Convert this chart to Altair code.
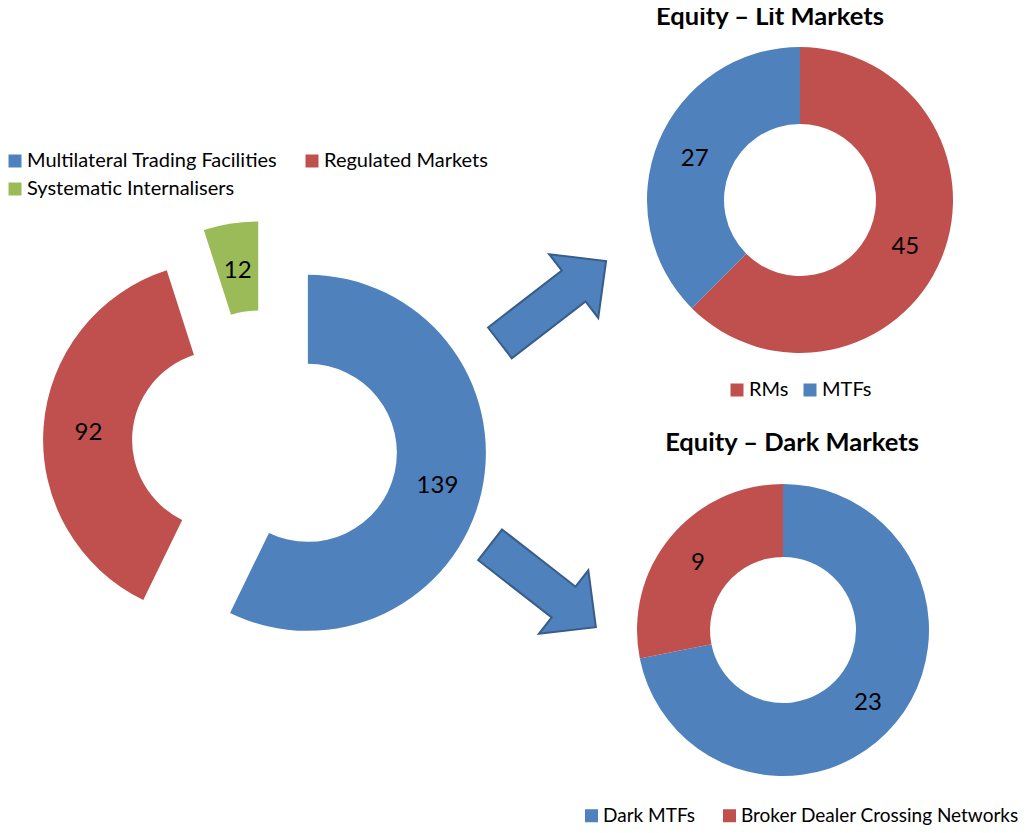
import altair as alt
import pandas as pd

# ---- data ----
big_categories = ["Multilateral Trading Facilities", "Regulated Markets", "Systematic Internalisers"]
big_values = [139, 92, 12]
big_colors = ["#4F81BD", "#C0504D", "#9BBB59"]

lit_categories = ["RMs", "MTFs"]
lit_values = [45, 27]
lit_colors = ["#C0504D", "#4F81BD"]

dark_categories = ["Dark MTFs", "Broker Dealer Crossing Networks"]
dark_values = [23, 9]
dark_colors = ["#4F81BD", "#C0504D"]

titles = ["Equity \u2013 Lit Markets", "Equity \u2013 Dark Markets"]

FONT = "Lato"
TWO_PI = 6.283185307179586
theta_scale = alt.Scale(domain=[0, 1], range=[0, TWO_PI])


def donut(categories, values, colors, cx, cy, R, r, explode, label_r, legend):
    df = pd.DataFrame({"category": categories, "value": values, "order": list(range(len(values)))})
    base = (
        alt.Chart(df)
        .transform_joinaggregate(total="sum(value)")
        .transform_window(cum="sum(value)", sort=[alt.SortField("order")], frame=[None, 0])
        .transform_calculate(
            t0="(datum.cum - datum.value) / datum.total",
            t1="datum.cum / datum.total",
            mid="(datum.cum - datum.value / 2) / datum.total",
        )
        .transform_calculate(
            px=f"{cx} + {explode} * sin(2 * PI * datum.mid)",
            py=f"{cy} - {explode} * cos(2 * PI * datum.mid)",
        )
    )
    xenc = alt.X("px:Q", scale=None, stack=None)
    yenc = alt.Y("py:Q", scale=None, stack=None)
    arcs = base.mark_arc(radius=R, radius2=r, strokeWidth=0).encode(
        x=xenc,
        y=yenc,
        theta=alt.Theta("t0:Q", scale=theta_scale, stack=None),
        theta2="t1:Q",
        color=alt.Color(
            "category:N",
            scale=alt.Scale(domain=categories, range=colors),
            legend=legend,
        ),
    )
    labels = base.mark_text(
        radius=label_r, font=FONT, fontSize=24, color="#000000", align="center",
        baseline="middle", dy=3,
    ).encode(
        x=xenc,
        y=yenc,
        theta=alt.Theta("mid:Q", scale=theta_scale, stack=None),
        text=alt.Text("value:Q"),
    )
    return [arcs, labels]


def make_legend(x, y, colpad, columns=None, size=20):
    kw = dict(
        orient="none",
        legendX=x,
        legendY=y,
        direction="horizontal",
        title=None,
        symbolType="square",
        symbolSize=169,
        symbolStrokeWidth=0,
        labelFont=FONT,
        labelFontSize=size,
        labelColor="#000000",
        labelOffset=2,
        labelLimit=600,
        columnPadding=colpad,
        rowPadding=8,
        padding=0,
    )
    if columns:
        kw["columns"] = columns
    return alt.Legend(**kw)


big = donut(big_categories, big_values, big_colors, 257, 435, 178, 89, 44, 133,
            make_legend(-3, 143, 24, columns=2))
lit = donut(lit_categories, lit_values, lit_colors, 792, 192, 153, 76, 0, 114,
            make_legend(719, 372, 11))
dark = donut(dark_categories, dark_values, dark_colors, 775, 622, 146, 73, 0, 110,
             make_legend(574, 798, 24, size=19))

title_layers = []
for t, (tx, ty) in zip(titles, [(762, 17), (784, 443)]):
    title_layers.append(
        alt.Chart(pd.DataFrame({"title": [t]}))
        .mark_text(font=FONT, fontSize=25.5, fontWeight="bold", color="#000000",
                   align="center", baseline="alphabetic")
        .encode(x=alt.value(tx), y=alt.value(ty), text="title:N")
    )

ARROW = "M -1 -0.29 L 0.39 -0.29 L 0.39 -0.6 L 1 0 L 0.39 0.6 L 0.39 0.29 L -1 0.29 Z"
arrow_layers = []
for (ax, ay, ang) in [(545, 294, 322.4), (535, 578, 37.9)]:
    arrow_layers.append(
        alt.Chart(alt.Data(values=[{}]))
        .mark_point(
            shape=ARROW, size=17956, angle=ang, filled=True, fill="#4F81BD",
            stroke="#385D8A", strokeWidth=2, opacity=1,
        )
        .encode(x=alt.value(ax), y=alt.value(ay))
    )

chart = (
    alt.layer(*big, *lit, *dark, *title_layers, *arrow_layers)
    .resolve_scale(color="independent")
    .resolve_legend(color="independent")
    .properties(width=1020, height=817, padding=0, autosize="none")
    .configure_view(strokeWidth=0)
)

chart.save("out.html", embed_options={"renderer": "svg", "actions": False})
